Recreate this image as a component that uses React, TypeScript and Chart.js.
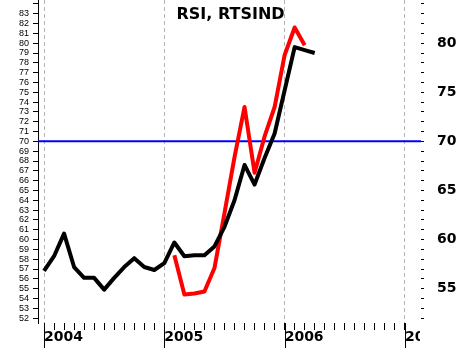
import React, { useEffect, useRef } from 'react';
import { Chart, registerables } from 'chart.js';

Chart.register(...registerables);

// ---- data ----
const TITLE = 'RSI, RTSIND';
const YEAR_LABELS = ['2004', '2005', '2006', '2007'];
// month index 0 = Jan 2004
const MONTH_TICKS = [
  0, 1, 2, 3, 4, 5, 6, 7, 8, 9, 10, 11,
  12, 13, 14, 15, 16, 17, 18, 19, 20, 21, 22, 23,
  24, 25, 26, 27, 28, 29, 30, 31, 32, 33, 34, 35, 36,
];
const BLACK_START = 0;
const BLACK_RSI = [
  56.8, 58.3, 60.6, 57.2, 56.1, 56.1, 54.9, 56.1, 57.2, 58.1, 57.2, 56.9,
  57.6, 59.7, 58.3, 58.4, 58.4, 59.3, 61.3, 64.0, 67.6, 65.6, 68.3, 70.8,
  75.2, 79.6, 79.3, 79.0,
];
const RED_START = 13;
const RED_RSI = [
  58.4, 54.4, 54.5, 54.7, 57.1, 62.7, 68.4, 73.5, 66.8, 70.5, 73.5,
  78.8, 81.6, 79.8,
];
const LEVEL = 70;
const LEFT_TICKS = [
  52, 53, 54, 55, 56, 57, 58, 59, 60, 61, 62, 63, 64, 65, 66, 67, 68,
  69, 70, 71, 72, 73, 74, 75, 76, 77, 78, 79, 80, 81, 82, 83, 84,
];
const LEFT_LABELS = [
  '52', '53', '54', '55', '56', '57', '58', '59', '60', '61', '62', '63',
  '64', '65', '66', '67', '68', '69', '70', '71', '72', '73', '74', '75',
  '76', '77', '78', '79', '80', '81', '82', '83',
];
const RIGHT_LABELS = ['55', '60', '65', '70', '75', '80'];

const X_MIN = -0.6;
const X_MAX = 37.6;
const Y_MIN = 51.5;
const Y_MAX = 84.4;

const zeroPad = (s: any) => {
  s.paddingTop = 0;
  s.paddingBottom = 0;
  s.paddingLeft = 0;
  s.paddingRight = 0;
};

const decorPlugin = {
  id: 'decor',
  afterDatasetsDraw(chart: any) {
    const { ctx, chartArea, scales } = chart;
    const W = chart.width;
    const H = chart.height;
    ctx.save();
    // clip the year label that runs into the right axis
    ctx.fillStyle = '#ffffff';
    ctx.fillRect(chartArea.right - 1, chartArea.bottom + 1, W - chartArea.right + 1, H);
    // year separator lines under the axis
    ctx.strokeStyle = '#000000';
    ctx.lineWidth = 1;
    YEAR_LABELS.forEach((_, i) => {
      const px = Math.round(scales.x.getPixelForValue(i * 12)) + 0.5;
      ctx.beginPath();
      ctx.moveTo(px, chartArea.bottom);
      ctx.lineTo(px, H);
      ctx.stroke();
    });
    ctx.restore();
  },
  afterDraw(chart: any) {
    const { ctx, chartArea } = chart;
    ctx.save();
    ctx.font = 'bold 16px "DejaVu Sans"';
    ctx.fillStyle = '#000000';
    ctx.textAlign = 'center';
    ctx.textBaseline = 'alphabetic';
    ctx.fillText(TITLE, (chartArea.left + chartArea.right) / 2 + 1, chartArea.top + 19);
    ctx.restore();
  },
};

export default function App() {
  const ref = useRef<HTMLCanvasElement | null>(null);

  useEffect(() => {
    const canvas = ref.current;
    if (!canvas) return;
    const chart = new Chart(canvas, {
      type: 'line',
      data: {
        datasets: [
          {
            data: BLACK_RSI.map((v, i) => ({ x: BLACK_START + i, y: v })),
            borderColor: '#000000',
            borderWidth: 4,
            pointRadius: 0,
            tension: 0,
            borderJoinStyle: 'round',
            yAxisID: 'y',
          },
          {
            data: RED_RSI.map((v, i) => ({ x: RED_START + i, y: v })),
            borderColor: '#ff0000',
            borderWidth: 4,
            pointRadius: 0,
            tension: 0,
            borderJoinStyle: 'round',
            yAxisID: 'y',
          },
          {
            data: [
              { x: X_MIN, y: LEVEL },
              { x: X_MAX, y: LEVEL },
            ],
            borderColor: '#0000ff',
            borderWidth: 2,
            pointRadius: 0,
            yAxisID: 'y',
          },
        ],
      },
      options: {
        animation: false,
        responsive: false,
        devicePixelRatio: 1,
        events: [],
        layout: { padding: 0 },
        plugins: {
          legend: { display: false },
          tooltip: { enabled: false },
          title: { display: false },
        },
        scales: {
          x: {
            type: 'linear',
            position: 'bottom',
            min: X_MIN,
            max: X_MAX,
            bounds: 'data',
            afterBuildTicks: (s: any) => {
              s.ticks = MONTH_TICKS.map((v) => ({ value: v }));
            },
            afterFit: (s: any) => {
              s.height = 25;
              zeroPad(s);
            },
            grid: {
              drawOnChartArea: true,
              color: (c: any) =>
                c.tick && c.tick.value % 12 === 0 ? '#b4b4b4' : 'rgba(0,0,0,0)',
              tickColor: '#000000',
              tickLength: 7,
              lineWidth: 1,
            },
            border: { display: false, dash: [4, 3] },
            ticks: {
              autoSkip: false,
              maxRotation: 0,
              minRotation: 0,
              align: 'start',
              padding: -1,
              color: '#000000',
              font: { family: 'DejaVu Sans', size: 14, weight: 'bold' },
              callback: (v: any) => (v % 12 === 0 ? YEAR_LABELS[v / 12] : ''),
            },
          },
          y: {
            type: 'linear',
            position: 'left',
            min: Y_MIN,
            max: Y_MAX,
            bounds: 'data',
            afterBuildTicks: (s: any) => {
              s.ticks = LEFT_TICKS.map((v) => ({ value: v }));
            },
            afterFit: (s: any) => {
              s.width = 38;
              zeroPad(s);
            },
            grid: {
              drawOnChartArea: false,
              tickColor: '#000000',
              tickLength: 5,
            },
            border: { display: true, color: '#000000', width: 1 },
            ticks: {
              autoSkip: false,
              padding: 4,
              color: '#000000',
              font: { family: 'Liberation Sans', size: 9 },
              callback: (v: any, i: number) => LEFT_LABELS[i] ?? '',
            },
          },
          y2: {
            type: 'linear',
            position: 'right',
            min: Y_MIN,
            max: Y_MAX,
            bounds: 'data',
            afterBuildTicks: (s: any) => {
              s.ticks = LEFT_TICKS.map((v) => ({ value: v }));
            },
            afterFit: (s: any) => {
              s.width = 38;
              zeroPad(s);
            },
            grid: {
              drawOnChartArea: false,
              tickColor: '#000000',
              tickLength: 3,
            },
            border: { display: false },
            ticks: {
              autoSkip: false,
              padding: 13,
              color: '#000000',
              font: { family: 'DejaVu Sans', size: 14, weight: 'bold' },
              callback: (v: any) =>
                RIGHT_LABELS.includes(String(v)) ? String(v) : '',
            },
          },
        },
      } as any,
      plugins: [decorPlugin],
    });
    return () => chart.destroy();
  }, []);

  return (
    <div style={{ position: 'fixed', left: 0, top: 0, width: 459, height: 348, background: '#fff' }}>
      <canvas ref={ref} width={459} height={348} style={{ display: 'block', width: 459, height: 348 }} />
    </div>
  );
}
